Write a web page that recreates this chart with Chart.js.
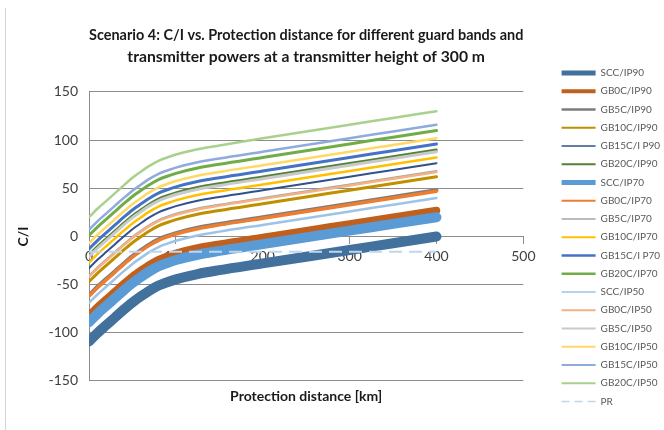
<!DOCTYPE html>
<html>
<head>
<meta charset="utf-8">
<script src="https://cdn.jsdelivr.net/npm/chart.js@4.4.1/dist/chart.umd.min.js"></script>
<style>
  html, body { margin: 0; padding: 0; background: #fff; }
  #wrap { position: relative; width: 664px; height: 430px; }
  #edge { position: absolute; left: 5px; top: 8px; width: 1px; height: 422px; background: #d4d4d4; }
</style>
</head>
<body>
<div id="wrap">
  <canvas id="chart" width="664" height="430"></canvas>
  <div id="edge"></div>
</div>
<script>
// ---- Data ----
const distances = [0, 10, 20, 30, 40, 50, 60, 70, 80, 90, 100, 125, 150, 200, 250, 300, 350, 400];

const sccIp90   = [-109, -100, -92, -84, -76, -68.5, -62, -56, -51, -47.5, -44.5, -39, -35, -28, -21, -14, -7, 0];
const gb0cIp90  = [-82, -73, -65, -57, -49, -41.5, -35, -29, -24, -20.5, -17.5, -12, -8, -1, 6, 13, 20, 27];
const gb5cIp90  = [-61, -52, -44, -36, -28, -20.5, -14, -8, -3, 0.5, 3.5, 9, 13, 20, 27, 34, 41, 48];
const gb10cIp90 = [-47, -38, -30, -22, -14, -6.5, 0, 6, 11, 14.5, 17.5, 23, 27, 34, 41, 48, 55, 62];
const gb15cIp90 = [-33, -24, -16, -8, 0, 7.5, 14, 20, 25, 28.5, 31.5, 37, 41, 48, 55, 62, 69, 76];
const gb20cIp90 = [-19, -10, -2, 6, 14, 21.5, 28, 34, 39, 42.5, 45.5, 51, 55, 62, 69, 76, 83, 90];

const sccIp70   = [-89, -80, -72, -64, -56, -48.5, -42, -36, -31, -27.5, -24.5, -19, -15, -8, -1, 6, 13, 20];
const gb0cIp70  = [-62, -53, -45, -37, -29, -21.5, -15, -9, -4, -0.5, 2.5, 8, 12, 19, 26, 33, 40, 47];
const gb5cIp70  = [-41, -32, -24, -16, -8, -0.5, 6, 12, 17, 20.5, 23.5, 29, 33, 40, 47, 54, 61, 68];
const gb10cIp70 = [-27, -18, -10, -2, 6, 13.5, 20, 26, 31, 34.5, 37.5, 43, 47, 54, 61, 68, 75, 82];
const gb15cIp70 = [-13, -4, 4, 12, 20, 27.5, 34, 40, 45, 48.5, 51.5, 57, 61, 68, 75, 82, 89, 96];
const gb20cIp70 = [1, 10, 18, 26, 34, 41.5, 48, 54, 59, 62.5, 65.5, 71, 75, 82, 89, 96, 103, 110];

const sccIp50   = [-69, -60, -52, -44, -36, -28.5, -22, -16, -11, -7.5, -4.5, 1, 5, 12, 19, 26, 33, 40];
const gb0cIp50  = [-42, -33, -25, -17, -9, -1.5, 5, 11, 16, 19.5, 22.5, 28, 32, 39, 46, 53, 60, 67];
const gb5cIp50  = [-21, -12, -4, 4, 12, 19.5, 26, 32, 37, 40.5, 43.5, 49, 53, 60, 67, 74, 81, 88];
const gb10cIp50 = [-7, 2, 10, 18, 26, 33.5, 40, 46, 51, 54.5, 57.5, 63, 67, 74, 81, 88, 95, 102];
const gb15cIp50 = [7, 16, 24, 32, 40, 47.5, 54, 60, 65, 68.5, 71.5, 77, 81, 88, 95, 102, 109, 116];
const gb20cIp50 = [20, 29, 37, 45, 53, 61, 67.5, 73.5, 78.5, 82, 85, 90.5, 94.5, 102, 109, 116, 123, 130];

const prDistances = [0, 400];
const prLevel = [-16, -16];

const seriesNames = [
    'SCC/IP90', 'GB0C/IP90', 'GB5C/IP90', 'GB10C/IP90', 'GB15C/I P90', 'GB20C/IP90',
    'SCC/IP70', 'GB0C/IP70', 'GB5C/IP70', 'GB10C/IP70', 'GB15C/I P70', 'GB20C/IP70',
    'SCC/IP50', 'GB0C/IP50', 'GB5C/IP50', 'GB10C/IP50', 'GB15C/IP50', 'GB20C/IP50',
];
const seriesValues = [
    sccIp90, gb0cIp90, gb5cIp90, gb10cIp90, gb15cIp90, gb20cIp90,
    sccIp70, gb0cIp70, gb5cIp70, gb10cIp70, gb15cIp70, gb20cIp70,
    sccIp50, gb0cIp50, gb5cIp50, gb10cIp50, gb15cIp50, gb20cIp50,
];

const xTicks = [0, 100, 200, 300, 400, 500];
const yTicks = [-150, -100, -50, 0, 50, 100, 150];

// ---- Styles ----
const lineColors = [
    '#41719C', '#C0601F', '#7C7C7C', '#BF9000', '#2F528F', '#538135',
    '#5B9BD5', '#ED7D31', '#A5A5A5', '#FFC000', '#4472C4', '#70AD47',
    '#9DC3E6', '#F4B183', '#C9C9C9', '#FFD966', '#8FAADC', '#A9D18E',
];
const lineWidths   = [10, 7.5, 4, 3, 2, 2.5, 10, 3.5, 2, 2.5, 3, 3, 2.5, 2.5, 3, 2.5, 2.5, 2.5];
const legendWidths = [5, 4, 2.5, 2, 1.5, 2, 5, 2, 1.5, 2, 2.5, 2.5, 1.5, 2, 2, 2, 2, 2];
const prColor = '#BDD7EE';

const FONT = 'Lato, "Open Sans", sans-serif';
const TEXT = '#404040';
const GRID = '#8C8C8C';

Chart.defaults.font.family = FONT;

// ---- Datasets ----
const datasets = seriesNames.map((name, i) => ({
    label: name,
    data: distances.map((d, k) => ({ x: d, y: seriesValues[i][k] })),
    borderColor: lineColors[i],
    backgroundColor: lineColors[i],
    borderWidth: lineWidths[i],
}));
datasets.push({
    label: 'PR',
    data: prDistances.map((d, k) => ({ x: d, y: prLevel[k] })),
    borderColor: prColor,
    backgroundColor: prColor,
    borderWidth: 2,
    borderDash: [13, 7],
    borderCapStyle: 'butt',
});
// Excel paints the first series first, so the last one ends up on top
datasets.forEach((ds, i) => { ds.order = datasets.length - i; });

const baseLabels = Chart.defaults.plugins.legend.labels.generateLabels;

new Chart(document.getElementById('chart'), {
    type: 'line',
    data: { datasets },
    options: {
        responsive: false,
        animation: false,
        // 15.25 / 8.25 are exact binary fractions so the end-aligned legend column fits exactly
        layout: { padding: { bottom: 15.25 } },
        elements: {
            point: { radius: 0, hoverRadius: 0 },
            line: { cubicInterpolationMode: 'monotone', borderCapStyle: 'round', borderJoinStyle: 'round' },
        },
        scales: {
            x: {
                type: 'linear',
                position: { y: 0 },
                min: 0, max: 500,
                afterBuildTicks: (s) => { s.ticks = xTicks.map(v => ({ value: v })); },
                ticks: { color: TEXT, font: { size: 14 }, padding: 5 },
                grid: { drawOnChartArea: false, tickLength: 7, color: GRID },
                border: { color: GRID },
            },
            y: {
                type: 'linear',
                min: -150, max: 150,
                afterBuildTicks: (s) => { s.ticks = yTicks.map(v => ({ value: v })); },
                ticks: { color: TEXT, font: { size: 14 }, padding: 11 },
                grid: { drawTicks: false, color: GRID },
                border: { color: GRID },
                title: {
                    display: true, text: 'C/I', color: '#1a1a1a',
                    font: { size: 14, weight: 'bold' }, padding: { top: 15 },
                },
                afterFit: (s) => { s.width = 89; },
            },
            gap: {
                type: 'linear', position: 'right', display: true,
                grid: { display: false }, border: { display: false }, ticks: { display: false },
                afterFit: (s) => { s.width = 30; },
            },
        },
        plugins: {
            title: {
                display: true,
                fullSize: false,
                text: [
                    'Scenario 4: C/I vs. Protection distance for different guard bands and',
                    'transmitter powers at a transmitter height of 300 m',
                ],
                color: '#1a1a1a',
                font: { size: 15.7, weight: 'bold', lineHeight: 1.4 },
                padding: { top: 24, bottom: 24 },
            },
            subtitle: {
                display: true,
                position: 'bottom',
                fullSize: false,
                text: 'Protection distance [km]',
                color: '#1a1a1a',
                font: { size: 14, weight: 'bold' },
                padding: { top: 7.5, bottom: 9.5 },
            },
            legend: {
                position: 'right',
                align: 'end',
                labels: {
                    usePointStyle: true,
                    pointStyle: 'line',
                    pointStyleWidth: 34,
                    padding: 8.25,
                    color: '#595959',
                    font: { size: 10 },
                    sort: (a, b) => a.datasetIndex - b.datasetIndex,
                    generateLabels: (chart) => baseLabels(chart).map(item => {
                        const i = item.datasetIndex;
                        const isPR = i === seriesNames.length;
                        item.strokeStyle = isPR ? prColor : lineColors[i];
                        item.lineWidth = isPR ? 1.5 : legendWidths[i];
                        item.lineDash = isPR ? [8, 5] : [];
                        item.lineCap = 'butt';
                        return item;
                    }),
                },
            },
            tooltip: { enabled: false },
        },
    },
});
</script>
</body>
</html>
